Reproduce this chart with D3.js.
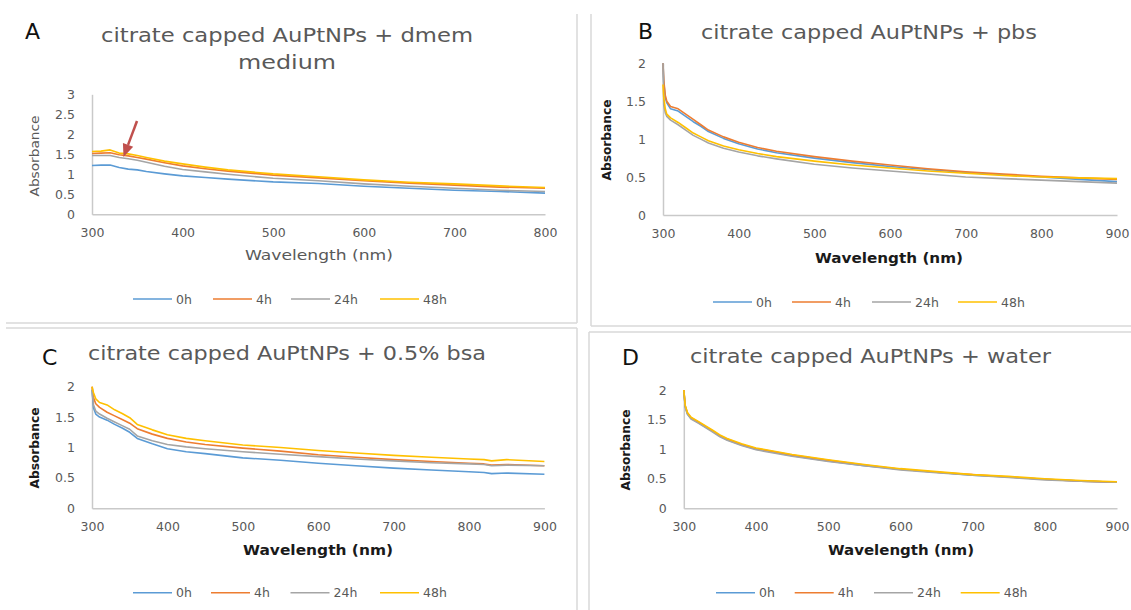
<!DOCTYPE html>
<html><head><meta charset="utf-8">
<script src="https://cdnjs.cloudflare.com/ajax/libs/d3/7.8.5/d3.min.js"></script>
<style>body{margin:0;background:#fff}</style>
</head><body>
<script>
const W = 1131, H = 610;

// ── Series names and Excel-2013 default colours
const SERIES = ['0h', '4h', '24h', '48h'];
const COLORS = ['#5B9BD5', '#ED7D31', '#A5A5A5', '#FFC000'];

// ── Panel A: dmem medium
const wlA  = [300, 310, 320, 330, 340, 350, 360, 380, 400, 425, 450, 500, 550, 600, 650, 700, 750, 800];
const a0h  = [1.22, 1.23, 1.23, 1.17, 1.13, 1.11, 1.07, 1.01, 0.96, 0.92, 0.88, 0.81, 0.77, 0.70, 0.65, 0.60, 0.57, 0.53];
const a4h  = [1.52, 1.53, 1.54, 1.49, 1.46, 1.42, 1.38, 1.29, 1.21, 1.14, 1.08, 0.98, 0.91, 0.84, 0.78, 0.73, 0.68, 0.65];
const a24h = [1.47, 1.47, 1.47, 1.42, 1.39, 1.35, 1.30, 1.20, 1.12, 1.06, 1.00, 0.90, 0.84, 0.76, 0.70, 0.65, 0.60, 0.57];
const a48h = [1.57, 1.58, 1.61, 1.53, 1.51, 1.47, 1.42, 1.33, 1.26, 1.18, 1.11, 1.01, 0.94, 0.86, 0.80, 0.76, 0.71, 0.67];

// ── Panel B: pbs
const wlB  = [300, 301, 303, 305, 310, 320, 330, 340, 350, 360, 380, 400, 425, 450, 500, 550, 600, 650, 700, 750, 800, 850, 900];
const b0h  = [2.00, 1.75, 1.55, 1.48, 1.40, 1.37, 1.30, 1.23, 1.17, 1.10, 1.01, 0.94, 0.87, 0.82, 0.75, 0.69, 0.64, 0.60, 0.56, 0.53, 0.50, 0.47, 0.44];
const b4h  = [2.00, 1.78, 1.58, 1.50, 1.43, 1.40, 1.33, 1.26, 1.19, 1.12, 1.03, 0.96, 0.89, 0.84, 0.77, 0.71, 0.66, 0.61, 0.57, 0.54, 0.51, 0.49, 0.47];
const b24h = [2.00, 1.45, 1.35, 1.30, 1.25, 1.19, 1.12, 1.05, 1.00, 0.95, 0.88, 0.83, 0.78, 0.74, 0.67, 0.62, 0.58, 0.54, 0.50, 0.48, 0.46, 0.44, 0.42];
const b48h = [1.72, 1.55, 1.40, 1.33, 1.28, 1.22, 1.15, 1.08, 1.03, 0.98, 0.91, 0.86, 0.81, 0.77, 0.71, 0.66, 0.62, 0.58, 0.55, 0.52, 0.50, 0.49, 0.48];

// ── Panel C: 0.5% bsa
const wlC  = [300, 302, 305, 310, 320, 330, 340, 350, 360, 380, 400, 425, 450, 500, 550, 600, 650, 700, 750, 800, 820, 830, 850, 900];
const c0h  = [1.95, 1.65, 1.55, 1.50, 1.45, 1.38, 1.32, 1.25, 1.15, 1.06, 0.98, 0.93, 0.90, 0.83, 0.79, 0.74, 0.70, 0.66, 0.63, 0.60, 0.59, 0.57, 0.58, 0.56];
const c4h  = [2.00, 1.82, 1.72, 1.66, 1.58, 1.52, 1.46, 1.40, 1.31, 1.22, 1.15, 1.09, 1.05, 0.99, 0.94, 0.88, 0.84, 0.80, 0.77, 0.74, 0.73, 0.71, 0.72, 0.70];
const c24h = [1.95, 1.70, 1.60, 1.55, 1.48, 1.42, 1.36, 1.30, 1.19, 1.11, 1.05, 1.01, 0.98, 0.93, 0.89, 0.85, 0.81, 0.78, 0.75, 0.73, 0.72, 0.70, 0.71, 0.70];
const c48h = [2.00, 1.90, 1.80, 1.74, 1.70, 1.62, 1.56, 1.49, 1.38, 1.29, 1.21, 1.15, 1.11, 1.04, 1.00, 0.95, 0.91, 0.87, 0.84, 0.81, 0.80, 0.78, 0.80, 0.77];

// ── Panel D: water
const wlD  = [300, 302, 305, 310, 320, 340, 350, 360, 380, 400, 450, 500, 550, 600, 650, 700, 750, 800, 850, 900];
const d0h  = [2.00, 1.72, 1.60, 1.52, 1.45, 1.30, 1.22, 1.16, 1.07, 1.00, 0.89, 0.80, 0.72, 0.66, 0.61, 0.56, 0.53, 0.49, 0.46, 0.44];
const d4h  = [2.00, 1.73, 1.61, 1.53, 1.46, 1.31, 1.23, 1.17, 1.08, 1.01, 0.90, 0.81, 0.73, 0.66, 0.61, 0.57, 0.53, 0.49, 0.46, 0.44];
const d24h = [1.98, 1.70, 1.59, 1.51, 1.44, 1.29, 1.21, 1.15, 1.06, 0.99, 0.88, 0.79, 0.72, 0.65, 0.60, 0.56, 0.52, 0.48, 0.46, 0.44];
const d48h = [2.00, 1.74, 1.62, 1.54, 1.47, 1.32, 1.24, 1.18, 1.09, 1.02, 0.91, 0.82, 0.74, 0.67, 0.62, 0.57, 0.54, 0.50, 0.47, 0.45];

const xTicksA = [300, 400, 500, 600, 700, 800];
const xTicksB = [300, 400, 500, 600, 700, 800, 900];
const yTicks3 = [0, 0.5, 1, 1.5, 2, 2.5, 3];
const yTicks2 = [0, 0.5, 1, 1.5, 2];

const FONT = '"DejaVu Sans", "Open Sans", sans-serif';
const GREY = '#595959';

const svg = d3.select('body').append('svg')
  .attr('width', W).attr('height', H)
  .style('display', 'block')
  .style('background', '#fff');

// ── Chart-area borders (light grey frames between panels)
const borders = [
  [577, 14, 577, 323], [6, 323, 577, 323],       // A
  [591, 14, 591, 326], [591, 326, W, 326],        // B
  [6, 328, 577, 328], [577, 328, 577, H],         // C
  [589, 332, W, 332], [589, 332, 589, H]          // D
];
svg.append('g').selectAll('line').data(borders).enter().append('line')
  .attr('x1', d => d[0]).attr('y1', d => d[1])
  .attr('x2', d => d[2]).attr('y2', d => d[3])
  .attr('stroke', '#d9d9d9').attr('stroke-width', 1.5);

const panels = [
  { wl: wlA, ys: [a0h, a4h, a24h, a48h], x0: 92, x1: 545, yTop: 94.3, yBot: 214.3,
    xDomain: [300, 800], yMax: 3, xTicks: xTicksA, yTicks: yTicks3,
    letter: { t: 'A', x: 25, y: 39 },
    title: ['citrate capped AuPtNPs + dmem', 'medium'], titleX: 287, titleY: [41.7, 69.3], titleLen: [372, 98],
    bold: false, yTitle: { x: 34.7, y: 156 }, xTitle: { x: 319, y: 260, len: 148 },
    legendY: 299, legendX: [133, 213, 291, 380] },
  { wl: wlB, ys: [b0h, b4h, b24h, b48h], x0: 663, x1: 1117, yTop: 63.3, yBot: 215,
    xDomain: [300, 900], yMax: 2, xTicks: xTicksB, yTicks: yTicks2,
    letter: { t: 'B', x: 638, y: 39 },
    title: ['citrate capped AuPtNPs + pbs'], titleX: 869, titleY: [39], titleLen: [336],
    bold: true, yTitle: { x: 606, y: 140 }, xTitle: { x: 889, y: 263, len: 148 },
    legendY: 302, legendX: [713, 792, 872, 958] },
  { wl: wlC, ys: [c0h, c4h, c24h, c48h], x0: 92, x1: 544.4, yTop: 386.7, yBot: 508.3,
    xDomain: [300, 900], yMax: 2, xTicks: xTicksB, yTicks: yTicks2,
    letter: { t: 'C', x: 42, y: 365 },
    title: ['citrate capped AuPtNPs + 0.5% bsa'], titleX: 287, titleY: [360], titleLen: [398],
    bold: true, yTitle: { x: 34.7, y: 448 }, xTitle: { x: 318, y: 555, len: 150 },
    legendY: 592.7, legendX: [133, 211, 290.5, 380] },
  { wl: wlD, ys: [d0h, d4h, d24h, d48h], x0: 683.8, x1: 1117, yTop: 390, yBot: 508.3,
    xDomain: [300, 900], yMax: 2, xTicks: xTicksB, yTicks: yTicks2,
    letter: { t: 'D', x: 622, y: 365 },
    title: ['citrate capped AuPtNPs + water'], titleX: 870.5, titleY: [363], titleLen: [361],
    bold: true, yTitle: { x: 625.5, y: 450 }, xTitle: { x: 901, y: 555, len: 146 },
    legendY: 592.7, legendX: [716, 794.7, 874, 960.7] }
];

panels.forEach(drawPanel);

function drawPanel(p) {
  const g = svg.append('g');
  const x = d3.scaleLinear().domain(p.xDomain).range([p.x0, p.x1]);
  const y = d3.scaleLinear().domain([0, p.yMax]).range([p.yBot, p.yTop]);

  // panel letter
  g.append('text')
    .attr('x', p.letter.x).attr('y', p.letter.y)
    .attr('font-family', FONT).attr('font-size', '22px')
    .attr('fill', '#111')
    .text(p.letter.t);

  // title (one or two lines)
  p.title.forEach((t, i) => {
    g.append('text')
      .attr('x', p.titleX).attr('y', p.titleY[i])
      .attr('text-anchor', 'middle')
      .attr('font-family', FONT).attr('font-size', '19px')
      .attr('fill', GREY)
      .attr('textLength', p.titleLen[i]).attr('lengthAdjust', 'spacingAndGlyphs')
      .text(t);
  });

  // axes
  const xAxis = g.append('g')
    .attr('transform', `translate(0,${p.yBot})`)
    .call(d3.axisBottom(x).tickValues(p.xTicks).tickSize(0).tickPadding(14).tickFormat(d3.format('d')));
  const yAxis = g.append('g')
    .attr('transform', `translate(${p.x0},0)`)
    .call(d3.axisLeft(y).tickValues(p.yTicks).tickSize(0).tickPadding(17).tickFormat(d => String(d)));

  [xAxis, yAxis].forEach(a => {
    a.select('.domain').attr('stroke', '#c9c9c9').attr('stroke-width', 1.5);
    a.selectAll('text')
      .attr('font-family', FONT).attr('font-size', '12.5px')
      .attr('fill', GREY);
  });

  // axis titles
  g.append('text')
    .attr('transform', `translate(${p.yTitle.x},${p.yTitle.y}) rotate(-90)`)
    .attr('text-anchor', 'middle').attr('dy', '0.35em')
    .attr('font-family', FONT).attr('font-size', '13px')
    .attr('font-weight', p.bold ? '700' : '400')
    .attr('fill', p.bold ? '#1a1a1a' : GREY)
    .attr('textLength', 81).attr('lengthAdjust', 'spacingAndGlyphs')
    .text('Absorbance');

  g.append('text')
    .attr('x', p.xTitle.x).attr('y', p.xTitle.y)
    .attr('text-anchor', 'middle')
    .attr('font-family', FONT).attr('font-size', '14px')
    .attr('font-weight', p.bold ? '700' : '400')
    .attr('fill', p.bold ? '#1a1a1a' : GREY)
    .attr('textLength', p.xTitle.len).attr('lengthAdjust', 'spacingAndGlyphs')
    .text('Wavelength (nm)');

  // series lines
  const line = d3.line().x(d => x(d[0])).y(d => y(d[1]));
  p.ys.forEach((vals, i) => {
    g.append('path')
      .datum(p.wl.map((w, k) => [w, vals[k]]))
      .attr('d', line)
      .attr('fill', 'none')
      .attr('stroke', COLORS[i])
      .attr('stroke-width', 1.6)
      .attr('stroke-linejoin', 'round');
  });

  // legend
  SERIES.forEach((s, i) => {
    const lx = p.legendX[i];
    g.append('line')
      .attr('x1', lx).attr('x2', lx + 39)
      .attr('y1', p.legendY).attr('y2', p.legendY)
      .attr('stroke', COLORS[i]).attr('stroke-width', 1.6);
    g.append('text')
      .attr('x', lx + 43).attr('y', p.legendY + 4.5)
      .attr('font-family', FONT).attr('font-size', '12.5px')
      .attr('fill', GREY)
      .text(s);
  });
}

// ── Red arrow in panel A pointing at the curves
const arrow = { x1: 137, y1: 121, x2: 123.5, y2: 157 };
(function drawArrow(a) {
  const ang = Math.atan2(a.y2 - a.y1, a.x2 - a.x1);
  const len = 13, half = 5.5;
  const bx = a.x2 - len * Math.cos(ang), by = a.y2 - len * Math.sin(ang);
  const nx = -Math.sin(ang), ny = Math.cos(ang);
  svg.append('line')
    .attr('x1', a.x1).attr('y1', a.y1).attr('x2', bx).attr('y2', by)
    .attr('stroke', '#C0504D').attr('stroke-width', 2.5);
  svg.append('path')
    .attr('d', `M${a.x2},${a.y2}L${bx + nx * half},${by + ny * half}L${bx - nx * half},${by - ny * half}Z`)
    .attr('fill', '#C0504D');
})(arrow);
</script>
</body></html>
